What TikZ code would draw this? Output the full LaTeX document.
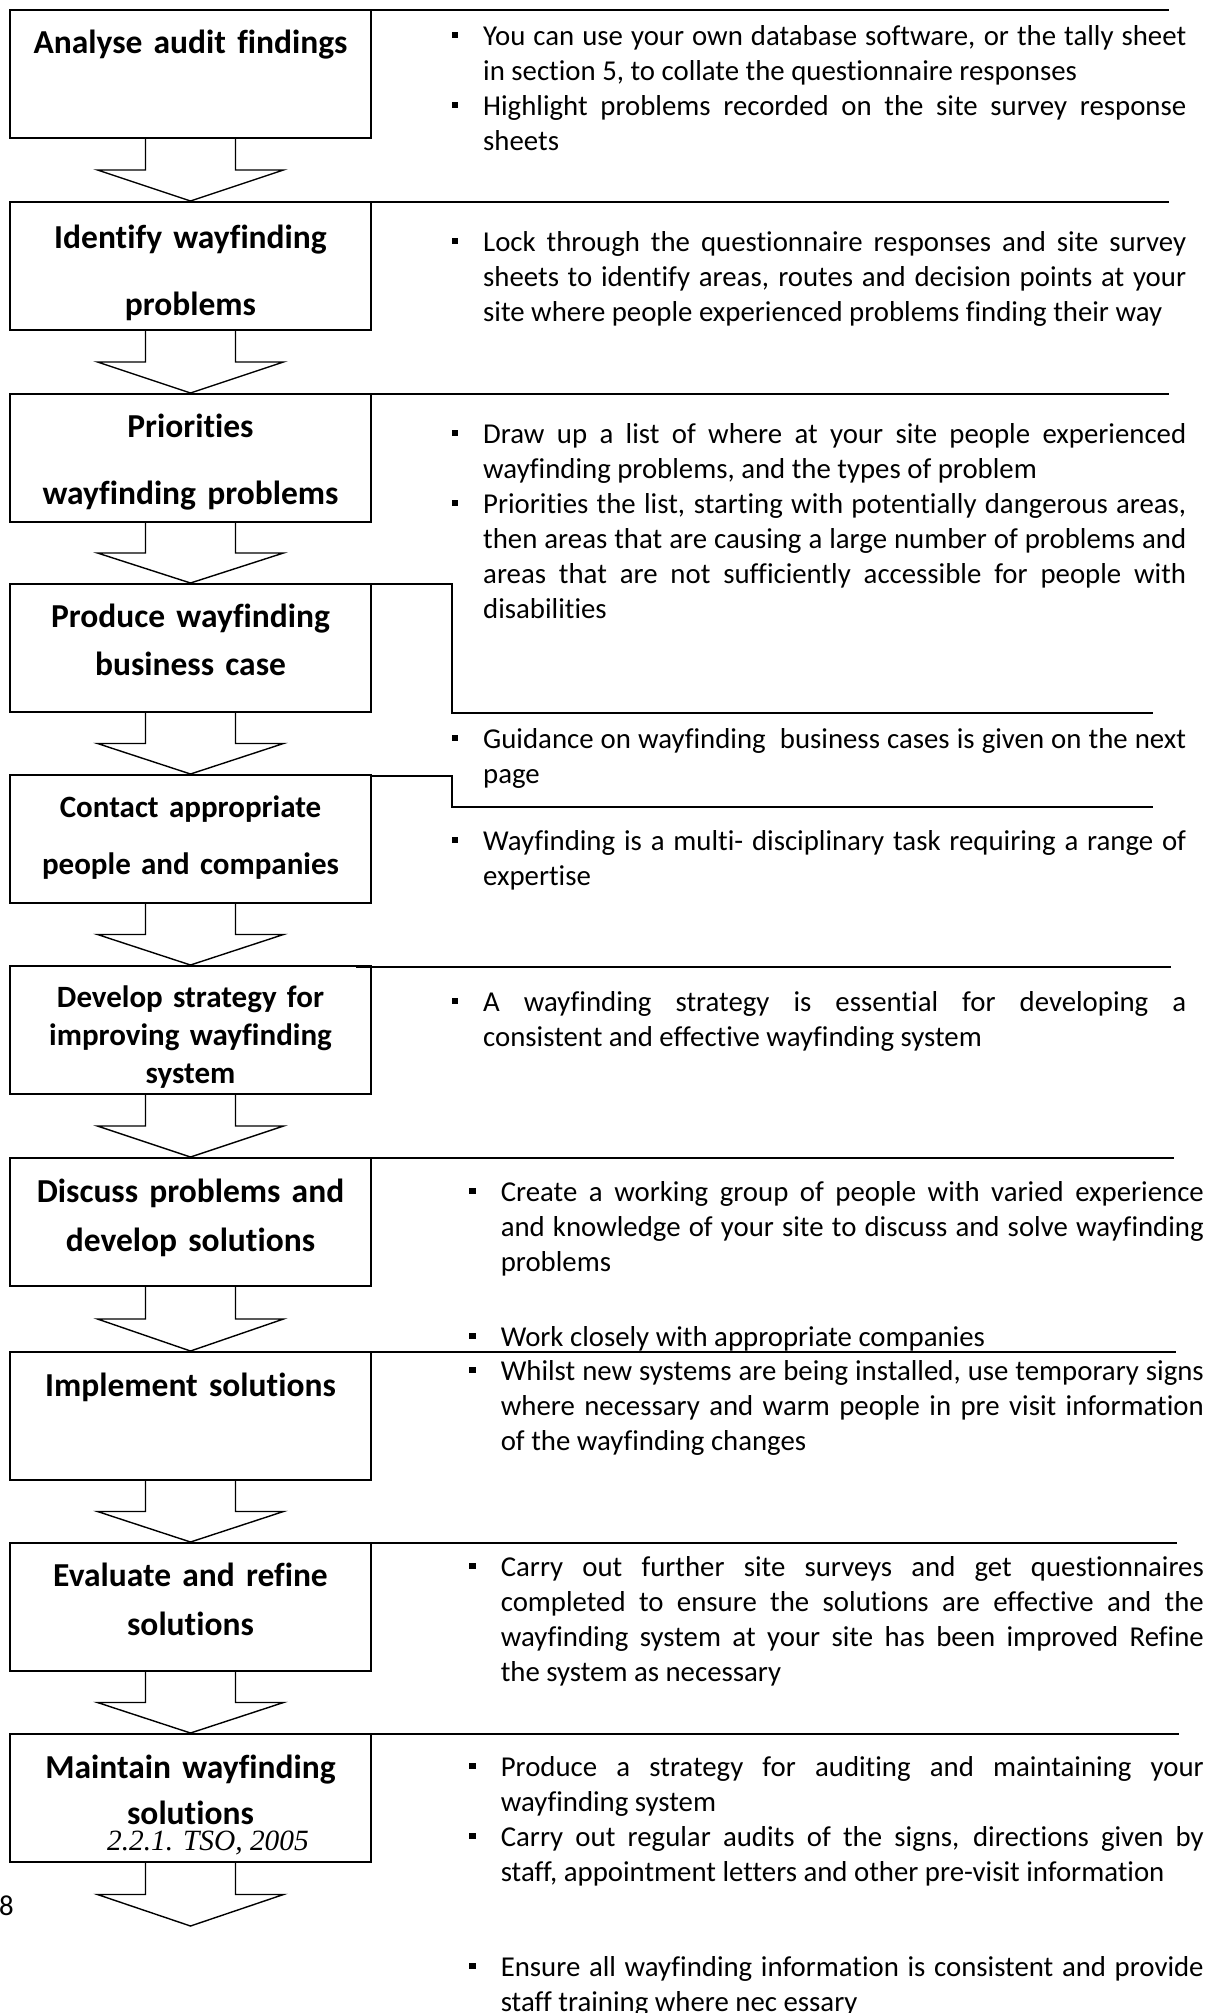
\documentclass[tikz,border=0pt]{standalone}
\usepackage{fontspec}
\setmainfont{Carlito}[Ligatures=NoCommon]
\newfontfamily\citefont{Liberation Serif}
\usetikzlibrary{calc}
\hyphenpenalty=10000
\exhyphenpenalty=10000
\tolerance=10000
\hbadness=10000

\newcommand{\sqbullet}{\leavevmode\llap{\rule[7pt]{6.5pt}{6.5pt}\hspace{25pt}}}
\newcommand{\flowarrow}[2]{%
  \coordinate (m) at ($(#1.south)!.5!(#2)$);
  \draw[flow] ($(#1.south)+(-45,0)$) -- ($(m)+(-45,0)$) -- ($(m)+(-93,0)$) -- (#2)
    -- ($(m)+(93,0)$) -- ($(m)+(45,0)$) -- ($(#1.south)+(45,0)$);}

\tikzset{
  stepbox/.style={draw, line width=2pt, minimum width=361pt, minimum height=128pt, inner sep=0pt},
  steptext/.style n args={2}{anchor=base, inner sep=0pt, text width=361pt, align=center,
    font=\bfseries\fontsize{#1}{#2}\selectfont},
  bullettext/.style={anchor=base west, inner sep=0pt, text width=#1, align=justify,
    font=\fontsize{28.8}{35}\selectfont},
  flow/.style={line width=1.4pt, line join=miter},
  sepline/.style={line width=2pt}
}

\begin{document}
\begin{tikzpicture}[x=1pt,y=-1pt]
\useasboundingbox (0,0) rectangle (1209,2013);
\clip (0,0) rectangle (1209,2013);

\foreach \k/\y in {1/74,2/266,3/458,4/648,5/839,6/1030,7/1222,8/1416,9/1607,10/1798}
  \node[stepbox] (b\k) at (190.5,\y) {};
\coordinate (end) at (190.5,1926);
\foreach \k [evaluate=\k as \n using int(\k+1)] in {1,...,9}
  \flowarrow{b\k}{b\n.north};
\flowarrow{b10}{end};

\node[steptext={33.5}{40}] (t1) at (190.5,53) {Analyse audit findings};
\node[steptext={33.5}{67}] (t2) at (190.5,248) {Identify wayfinding\\problems};
\node[steptext={33.5}{67}] (t3) at (190.5,437) {Priorities\\wayfinding problems};
\node[steptext={33.5}{48}] (t4) at (190.5,627) {Produce wayfinding\\business case};
\node[steptext={31}{57}] (t5) at (190.5,817) {Contact appropriate\\people and companies};
\node[steptext={31}{38}] (t6) at (190.5,1007) {Develop strategy for\\improving wayfinding\\system};
\node[steptext={33.5}{49}] (t7) at (190.5,1202) {Discuss problems and\\develop solutions};
\node[steptext={33.5}{40}] (t8) at (190.5,1396) {Implement solutions};
\node[steptext={33.5}{49}] (t9) at (190.5,1586) {Evaluate and refine\\solutions};
\node[steptext={33.5}{46}] (t10) at (190.5,1778) {Maintain wayfinding\\solutions};
\node[anchor=base, inner sep=0pt, font=\citefont\itshape\fontsize{29.4}{30}\selectfont] (src) at (208,1850) {2.2.1. TSO, 2005};
\node[anchor=base west, inner sep=0pt, font=\fontsize{28.8}{30}\selectfont] (pg) at (-1,1915) {8};

\foreach \y/\a/\b in {10/371/1169,202/354/1169,394/354/1169,967/356/1171,
  1158/370/1174,1352/360/1176,1543/370/1177,1734/370/1179}
  \draw[sepline] (\a,\y) -- (\b,\y);
\draw[sepline] (337,584) -| (452,713) -- (1153,713);
\draw[sepline] (371,776) -| (452,807) -- (1153,807);

\node[bullettext=703pt] (s1) at (483,45) {\sqbullet You can use your own database software, or the tally sheet\linebreak
  in section 5, to collate the questionnaire responses\par
  \sqbullet Highlight problems recorded on the site survey response\linebreak sheets};
\node[bullettext=703pt] (s2) at (483,251) {\sqbullet Lock through the questionnaire responses and site survey\linebreak
  sheets to identify areas, routes and decision points at your\linebreak
  site where people experienced problems finding their way};
\node[bullettext=703pt] (s3) at (483,443) {\sqbullet Draw up a list of where at your site people experienced\linebreak
  wayfinding problems, and the types of problem\par
  \sqbullet Priorities the list, starting with potentially dangerous areas,\linebreak
  then areas that are causing a large number of problems and\linebreak
  areas that are not sufficiently accessible for people with\linebreak disabilities};
\node[bullettext=703pt] (s4) at (483,748) {\sqbullet Guidance on wayfinding\ \ business cases is given on the next\linebreak page};
\node[bullettext=703pt] (s5) at (483,850) {\sqbullet Wayfinding is a multi- disciplinary task requiring a range of\linebreak expertise};
\node[bullettext=703pt] (s6) at (483,1011) {\sqbullet A wayfinding strategy is essential for developing a\linebreak
  consistent and effective wayfinding system};
\node[bullettext=703pt] (s7) at (500.6,1201) {\sqbullet Create a working group of people with varied experience\linebreak
  and knowledge of your site to discuss and solve wayfinding\linebreak problems};
\node[bullettext=703pt] (s7b) at (500.6,1346) {\sqbullet Work closely with appropriate companies};
\node[bullettext=703pt] (s8) at (500.6,1380) {\sqbullet Whilst new systems are being installed, use temporary signs\linebreak
  where necessary and warm people in pre visit information\linebreak of the wayfinding changes};
\node[bullettext=703pt] (s9) at (500.6,1576) {\sqbullet Carry out further site surveys and get questionnaires\linebreak
  completed to ensure the solutions are effective and the\linebreak
  wayfinding system at your site has been improved Refine\linebreak the system as necessary};
\node[bullettext=703pt] (s10) at (500.6,1776) {\sqbullet Produce a strategy for auditing and maintaining your\linebreak
  wayfinding system\par
  \sqbullet Carry out regular audits of the signs, directions given by\linebreak
  staff, appointment letters and other pre-visit information};
\node[bullettext=703pt] (s11) at (500.6,1976) {\sqbullet Ensure all wayfinding information is consistent and provide\linebreak
  staff training where nec essary};
\end{tikzpicture}
\end{document}
